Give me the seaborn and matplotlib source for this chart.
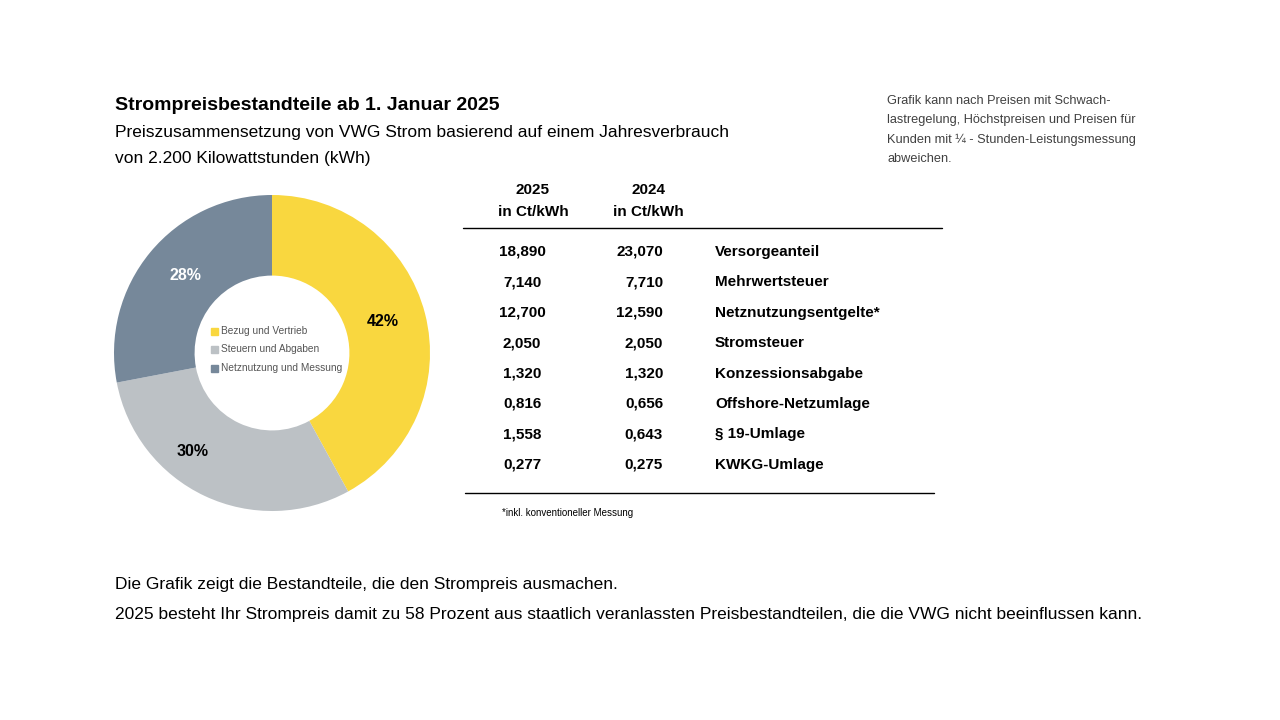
import matplotlib
matplotlib.use("Agg")
import matplotlib.pyplot as plt
from matplotlib.patches import Rectangle
import seaborn as sns

sns.set_theme(style="white")
plt.rcParams["font.family"] = ["Liberation Sans", "DejaVu Sans"]
plt.rcParams["text.color"] = "black"

# -----------------------------
# Data
# -----------------------------
shares = [42, 30, 28]
share_labels = ["Bezug und Vertrieb", "Steuern und Abgaben", "Netznutzung und Messung"]
colors = ["#F9D73F", "#BCC1C5", "#76889A"]
pct_colors = ["black", "black", "white"]

components = ["Versorgeanteil", "Mehrwertsteuer", "Netznutzungsentgelte*", "Stromsteuer",
              "Konzessionsabgabe", "Offshore-Netzumlage", "§ 19-Umlage", "KWKG-Umlage"]
price_2025 = ["18,890", "7,140", "12,700", "2,050", "1,320", "0,816", "1,558", "0,277"]
price_2024 = ["23,070", "7,710", "12,590", "2,050", "1,320", "0,656", "0,643", "0,275"]

W, H = 1280, 720
fig = plt.figure(figsize=(12.8, 7.2), dpi=100)
fig.patch.set_facecolor("white")

def fx(x):
    return x / W

def fy(y):
    return 1 - y / H

# -----------------------------
# Donut
# -----------------------------
cx, cy, r = 272, 353, 158
ax = fig.add_axes([fx(cx - r), fy(cy + r), 2 * r / W, 2 * r / H])
wedges, _ = ax.pie(shares, colors=colors, startangle=90, counterclock=False,
                   radius=1.0, wedgeprops=dict(width=0.51, linewidth=0))
ax.set_aspect("equal")
ax.set_xlim(-1, 1)
ax.set_ylim(-1, 1)
ax.axis("off")

# percentage labels
pct_pos = [(383, 322), (193, 451), (185, 276)]
for v, (px, py), c in zip(shares, pct_pos, pct_colors):
    fig.text(fx(px), fy(py), f"{v}%", ha="center", va="center",
             fontsize=11.5, fontweight="bold", color=c)

# legend inside the hole
for i, (lab, c) in enumerate(zip(share_labels, colors)):
    ly = 331 + i * 18.5
    fig.patches.append(Rectangle((fx(211), fy(ly + 4)), 7 / W, 7 / H,
                                 transform=fig.transFigure, color=c, figure=fig))
    fig.text(fx(221), fy(ly), lab, ha="left", va="center", fontsize=7.3, color="#555555")

# -----------------------------
# Titles
# -----------------------------
fig.text(fx(115), fy(105), "Strompreisbestandteile ab 1. Januar 2025", ha="left", va="center",
         fontsize=14, fontweight="bold")
fig.text(fx(115), fy(133), "Preiszusammensetzung von VWG Strom basierend auf einem Jahresverbrauch",
         ha="left", va="center", fontsize=12.5)
fig.text(fx(115), fy(159), "von 2.200 Kilowattstunden (kWh)",
         ha="left", va="center", fontsize=12.5)

note = ["Grafik kann nach Preisen mit Schwach-",
        "lastregelung, Höchstpreisen und Preisen für",
        "Kunden mit ¼ - Stunden-Leistungsmessung",
        "abweichen."]
for i, line in enumerate(note):
    fig.text(fx(887), fy(101 + i * 19.5), line, ha="left", va="center",
             fontsize=9.2, color="#404040")

# -----------------------------
# Table
# -----------------------------
for x0, yr in [(533, "2025"), (648, "2024")]:
    fig.text(fx(x0), fy(190), yr, ha="center", va="center", fontsize=11, fontweight="bold")
    fig.text(fx(x0), fy(212), "in Ct/kWh", ha="center", va="center", fontsize=11, fontweight="bold")

fig.add_artist(plt.Line2D([fx(463), fx(942)], [fy(228), fy(228)], color="black", lw=1))
fig.add_artist(plt.Line2D([fx(465), fx(934)], [fy(493), fy(493)], color="black", lw=1))

for i, (name, a, b) in enumerate(zip(components, price_2025, price_2024)):
    ry = 252 + i * 30.4
    fig.text(fx(522), fy(ry), a, ha="center", va="center", fontsize=11, fontweight="bold")
    fig.text(fx(663), fy(ry), b, ha="right", va="center", fontsize=11, fontweight="bold")
    fig.text(fx(715), fy(ry), name, ha="left", va="center", fontsize=11, fontweight="bold")

fig.text(fx(502), fy(513), "*inkl. konventioneller Messung", ha="left", va="center", fontsize=7)

# -----------------------------
# Bottom text
# -----------------------------
fig.text(fx(115), fy(585), "Die Grafik zeigt die Bestandteile, die den Strompreis ausmachen.",
         ha="left", va="center", fontsize=12.5)
fig.text(fx(115), fy(615), "2025 besteht Ihr Strompreis damit zu 58 Prozent aus staatlich veranlassten "
         "Preisbestandteilen, die die VWG nicht beeinflussen kann.",
         ha="left", va="center", fontsize=12.5)

fig.savefig("out.png", dpi=100, facecolor="white")
